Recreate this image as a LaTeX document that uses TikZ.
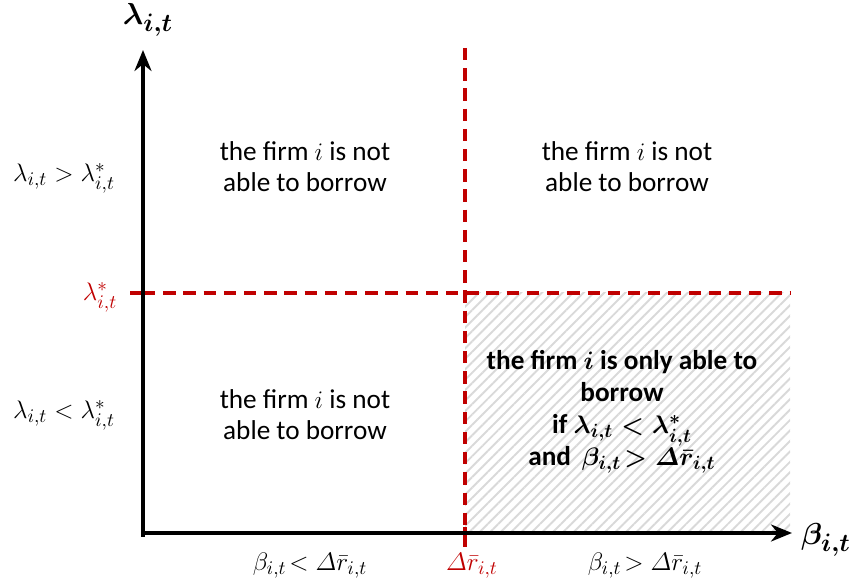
\documentclass[tikz,border=0pt]{standalone}
\usepackage{amsmath,amssymb,bm}
\usepackage{fontspec}
\setmainfont{Carlito}
\usepackage{tikz}
\usetikzlibrary{arrows.meta,patterns.meta}
\definecolor{thrred}{RGB}{192,0,0}
\tikzset{
  >={Stealth[length=4.2mm,width=3.4mm]},
  ax/.style={line width=2.3pt,->},
  thr/.style={thrred,line width=1.8pt,dash pattern=on 7pt off 4.5pt},
  tk/.style={thrred,line width=2.8pt},
  reg/.style={align=center,font=\fontsize{15.5}{17.6}\selectfont},
  regb/.style={align=center,font=\fontsize{15.5}{18.2}\selectfont\bfseries\boldmath},
  lbl/.style={font=\fontsize{15}{17}\selectfont,inner sep=1pt},
}
\begin{document}
\begin{tikzpicture}[x=0.02cm,y=-0.02cm]
\useasboundingbox (0,0) rectangle (850,584);
\coordinate (O) at (143,533); \coordinate (ytop) at (143,50); \coordinate (xend) at (792,533);
\coordinate (v0) at (465,48); \coordinate (v1) at (465,533); \coordinate (h0) at (143,293); \coordinate (h1) at (790,293);
\pattern[pattern={Lines[angle=45,distance=4.2pt,line width=1.1pt]},pattern color=gray!30] (v1) rectangle (h1);
\draw[thr] (v0)--(v1); \draw[thr] (h0)--(h1);
\draw[tk] (130,293)--(h0); \draw[tk] (465,527)--(465,547);
\draw[ax] (143,537)--(ytop); \draw[ax] (141,533)--(xend);
\node[lbl,font=\fontsize{19}{21}\selectfont] (ylab) at (148,20){$\boldsymbol{\lambda}_{\boldsymbol{i,t}}$};
\node[lbl,font=\fontsize{19}{21}\selectfont] (xlab) at (826,540){$\boldsymbol{\beta}_{\boldsymbol{i,t}}$};
\node[lbl] (yhi) at (64,178){$\lambda_{i,t} > \lambda^*_{i,t}$};
\node[lbl,text=thrred] (ystar) at (100,297){$\lambda^*_{i,t}$};
\node[lbl] (ylo) at (64,415){$\lambda_{i,t} < \lambda^*_{i,t}$};
\node[lbl] (xlo) at (310,566){$\beta_{i,t}\!< \varDelta\bar{r}_{i,t}$};
\node[lbl,text=thrred] (xstar) at (472,566){$\varDelta\bar{r}_{i,t}$};
\node[lbl] (xhi) at (645,566){$\beta_{i,t}\!> \varDelta\bar{r}_{i,t}$};
\node[reg] (tl) at (305,167){the firm $i$ is not\\able to borrow};
\node[reg] (tr) at (627,167){the firm $i$ is not\\able to borrow};
\node[reg] (bl) at (305,415){the firm $i$ is not\\able to borrow};
\node[regb] (br) at (622,412){the firm $i$ is only able to\\borrow\\if $\lambda_{i,t} < \lambda^*_{i,t}$\\and\, $\beta_{i,t}\!> \varDelta\bar{r}_{i,t}$};
\end{tikzpicture}
\end{document}
